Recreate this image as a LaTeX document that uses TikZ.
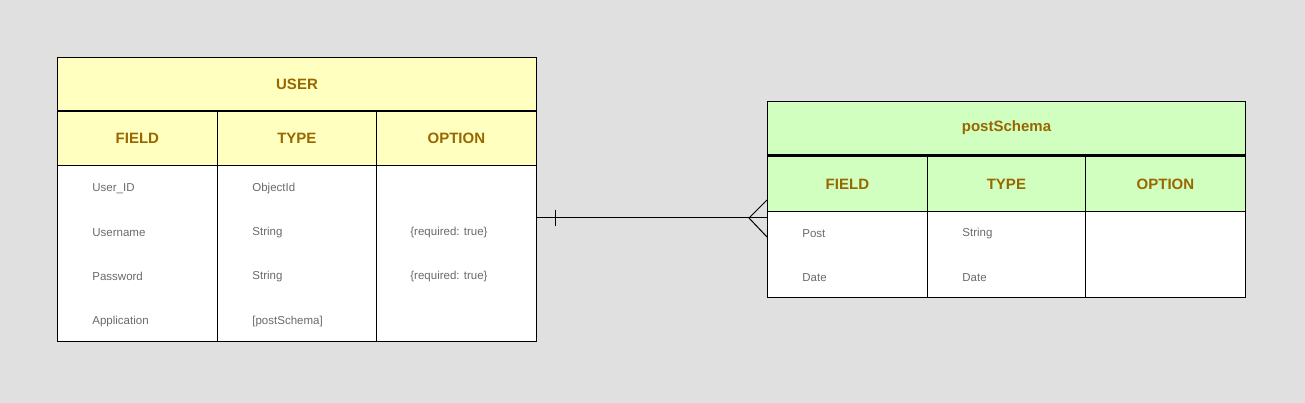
\documentclass[tikz,border=0pt]{standalone}
\usepackage{fontspec}
\setmainfont{Liberation Sans}
\usepackage{tikz}

\definecolor{bggray}{HTML}{E0E0E0}
\definecolor{hdryellow}{HTML}{FFFFC0}
\definecolor{hdrgreen}{HTML}{D0FFC0}
\definecolor{hdrtext}{HTML}{996600}
\definecolor{celltext}{HTML}{6A6A6A}

\tikzset{
  title/.style = {draw, line width=1pt, anchor=north west, inner sep=0pt,
    minimum height=53pt, text=hdrtext, font=\fontsize{15}{18}\selectfont\bfseries},
  colhead/.style = {draw, line width=0.8pt, anchor=north west, inner sep=0pt,
    minimum height=55pt, text=hdrtext, font=\fontsize{15}{18}\selectfont\bfseries},
  body/.style = {draw, line width=0.8pt, fill=white, anchor=north west, inner sep=0pt},
  entry/.style = {anchor=west, inner sep=0pt, yshift=-1.5pt, text=celltext, font=\fontsize{11.5}{14}\selectfont},
}

\begin{document}
\begin{tikzpicture}[x=1pt, y=-1pt, thick]
        \fill[bggray] (0,0) rectangle (1305,403);
        \useasboundingbox (0,0) rectangle (1305,403);

        % USER table
        \node[body, minimum width=160pt, minimum height=176pt] (uf) at (57,165) {};
        \node[body, minimum width=159pt, minimum height=176pt] (ut) at (217,165) {};
        \node[body, minimum width=160pt, minimum height=176pt] (uo) at (376,165) {};
        \node[colhead, fill=hdryellow, minimum width=160pt] (uhf) at (57,110) {FIELD};
        \node[colhead, fill=hdryellow, minimum width=159pt] (uht) at (217,110) {TYPE};
        \node[colhead, fill=hdryellow, minimum width=160pt] (uho) at (376,110) {OPTION};
        \node[title, fill=hdryellow, minimum width=479pt] (user) at (57,57) {USER};
        \draw[line width=1.8pt] (user.south west) -- (user.south east);

        \node[entry] (u1) at (92,187) {User\_ID};
        \node[entry] (u2) at (92,231) {Username};
        \node[entry] (u3) at (92,275) {Password};
        \node[entry] (u4) at (92,320) {Application};
        \node[entry] (t1) at (252,187) {ObjectId};
        \node[entry] (t2) at (252,231) {String};
        \node[entry] (t3) at (252,275) {String};
        \node[entry] (t4) at (252,320) {[postSchema]};
        \node[entry] (o2) at (410,231) {\{required: true\}};
        \node[entry] (o3) at (410,275) {\{required: true\}};

        % postSchema table
        \node[body, minimum width=160pt, minimum height=87pt] (pf) at (767,210) {};
        \node[body, minimum width=158pt, minimum height=87pt] (pt) at (927,210) {};
        \node[body, minimum width=160pt, minimum height=87pt] (po) at (1085,210) {};
        \node[colhead, fill=hdrgreen, minimum width=160pt] (phf) at (767,156) {FIELD};
        \node[colhead, fill=hdrgreen, minimum width=158pt] (pht) at (927,156) {TYPE};
        \node[colhead, fill=hdrgreen, minimum width=160pt] (pho) at (1085,156) {OPTION};
        \node[title, fill=hdrgreen, minimum width=478pt] (post) at (767,101) {postSchema};
        \draw[line width=1.8pt] (post.south west) -- (post.south east);

        \node[entry] (p1) at (802,232) {Post};
        \node[entry] (p2) at (802,276) {Date};
        \node[entry] (s1) at (962,232) {String};
        \node[entry] (s2) at (962,276) {Date};

        % one-to-many link
        \coordinate (from) at (uo.east |- 0,218);
        \coordinate (to) at (pf.west |- 0,218);
        \coordinate (tick) at (555,218);
        \coordinate (crow) at (749,218);
        \draw[line width=1pt] (from) -- (to);
        \draw[line width=1pt] ([yshift=-8pt]tick) -- ([yshift=8pt]tick);
        \draw[line width=1pt] (pf.west |- 0,200) -- (crow) -- (pf.west |- 0,237);
\end{tikzpicture}
\end{document}
